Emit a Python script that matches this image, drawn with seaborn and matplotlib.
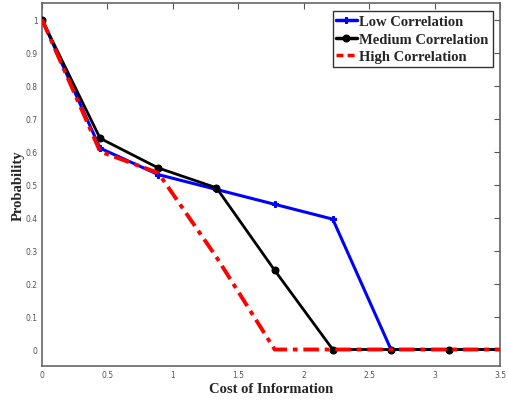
import numpy as np
import pandas as pd
import matplotlib
matplotlib.use("Agg")
import matplotlib.pyplot as plt
import seaborn as sns

cost = [0.0, 0.444, 0.889, 1.333, 1.778, 2.222, 2.667, 3.111, 3.556]
low = [1.0, 0.61, 0.53, 0.485, 0.44, 0.395, 0.0, 0.0, 0.0]
medium = [1.0, 0.64, 0.55, 0.49, 0.24, 0.0, 0.0, 0.0, 0.0]
high = [1.0, 0.60, 0.535, 0.28, 0.0, 0.0, 0.0, 0.0, 0.0]
series_names = ["Low Correlation", "Medium Correlation", "High Correlation"]
xticks = [0, 0.5, 1, 1.5, 2, 2.5, 3, 3.5]
yticks = [0, 0.1, 0.2, 0.3, 0.4, 0.5, 0.6, 0.7, 0.8, 0.9, 1]

df = pd.DataFrame({"cost": cost * 3,
                   "prob": low + medium + high,
                   "series": sum([[n] * len(cost) for n in series_names], [])})

sns.set_style("white")
fig = plt.figure(figsize=(5.08, 4.02), dpi=100)
ax = fig.add_axes([42 / 508, 1 - 367 / 402, 458 / 508, 363 / 402])

styles = {
    "Low Correlation": dict(color="#0000ff", marker="P", markersize=4, lw=2.2, ls="-"),
    "Medium Correlation": dict(color="black", marker="o", markersize=5, lw=2.0, ls="-"),
    "High Correlation": dict(color="#ff0000", marker=None, lw=2.8, ls=(0, (4, 1.5, 1.2, 1.5))),
}
for name in series_names:
    sub = df[df.series == name]
    st = styles[name]
    sns.lineplot(data=sub, x="cost", y="prob", ax=ax, color=st["color"],
                 marker=st["marker"], markersize=st.get("markersize", 0),
                 markeredgecolor=st["color"], linewidth=st["lw"],
                 linestyle=st["ls"], label=name, zorder=3 if name != "High Correlation" else 4)

ax.set_xlim(0, 3.5)
ax.set_ylim(-0.05, 1.05)
ax.set_xticks(xticks)
ax.set_xticklabels([f"{t:g}" for t in xticks])
ax.set_yticks(yticks)
ax.set_yticklabels([f"{t:g}" for t in yticks])
ax.tick_params(direction="in", length=4, width=0.8, labelsize=5.5, colors="#555555",
               top=True, right=True, labeltop=False, labelright=False, pad=3)
for sp in ax.spines.values():
    sp.set_color("#666666")
    sp.set_linewidth(1.2)

serif = ["Liberation Serif", "DejaVu Serif"]
ax.set_xlabel("Cost of Information", fontsize=10.5, fontweight="bold", family=serif, labelpad=2)
ax.set_ylabel("Probability", fontsize=10.5, fontweight="bold", family=serif)
ax.yaxis.set_label_coords(-0.037, 0.5)

handles, labels = ax.get_legend_handles_labels()
leg = ax.legend(handles, labels, loc="upper right", bbox_to_anchor=(0.99, 0.985),
                prop={"family": serif, "weight": "bold", "size": 10.5},
                frameon=True, fancybox=False, handlelength=1.4, handletextpad=0.2,
                borderpad=0.25, labelspacing=0.3, borderaxespad=0.2)
leg.get_frame().set_edgecolor("black")
leg.get_frame().set_linewidth(1.0)
for lh in leg.get_lines():
    lh.set_linewidth(2.5)
leg.get_lines()[2].set_linestyle((0, (2, 1.2)))

fig.savefig("out.png", dpi=100)
